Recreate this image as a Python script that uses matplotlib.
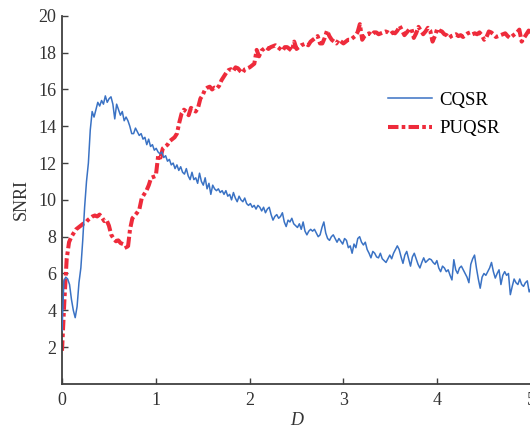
import matplotlib
matplotlib.use("Agg")
import matplotlib.pyplot as plt
import numpy as np

# CQSR curve (roughly 0.02 apart in D)
cqsr_snri = [
    2.9, 5.6, 5.8, 5.7, 5.4, 4.6, 4.0, 3.6, 4.2, 5.5,
    6.3, 7.8, 9.6, 11.0, 12.0, 13.8, 14.8, 14.5, 14.9, 15.3,
    15.1, 15.4, 15.2, 15.65, 15.3, 15.5, 15.6, 15.2, 14.4, 15.2,
    14.9, 14.6, 14.8, 14.3, 14.5, 14.3, 14.0, 13.6, 13.6, 13.9,
    13.7, 13.5, 13.6, 13.3, 13.4, 13.0, 13.3, 12.9, 13.0, 12.7,
    12.8, 12.6, 12.5, 12.6, 12.3, 12.4, 12.1, 12.2, 11.9, 12.0,
    11.7, 11.9, 11.6, 11.8, 11.5, 11.4, 11.7, 11.3, 11.1, 11.5,
    11.1, 11.2, 10.9, 11.45, 11.0, 10.8, 11.2, 10.6, 10.9, 10.3,
    10.8, 10.6, 10.5, 10.6, 10.4, 10.5, 10.3, 10.5, 10.2, 10.3,
    10.0, 10.4, 10.1, 9.9, 10.2, 10.0, 9.9, 10.1, 9.8, 9.7,
    9.8, 9.6, 9.7, 9.5, 9.7, 9.6, 9.4, 9.6, 9.3, 9.5,
    9.6, 9.2, 8.9, 9.1, 9.2, 9.0, 9.1, 9.3, 8.8, 8.55,
    8.9, 8.8, 9.0, 8.7, 8.6, 8.5, 8.7, 8.4, 8.8, 8.3,
    8.1, 8.3, 8.4, 8.3, 8.4, 8.2, 8.0, 8.1, 8.5, 8.8,
    8.2, 7.9, 7.8, 8.0, 8.1, 7.9, 7.7, 7.9, 7.75, 7.6,
    7.9, 7.8, 7.4, 7.5, 7.1, 7.6, 7.4, 7.9, 8.0, 7.7,
    7.55, 7.7, 7.3, 7.1, 6.85, 7.2, 7.1, 6.9, 6.85, 7.1,
    6.8, 6.7, 6.6, 6.8, 7.0, 6.8, 7.1, 7.3, 7.5, 7.3,
    6.9, 6.55, 7.0, 7.2, 6.8, 6.4, 6.9, 7.1, 6.8, 6.5,
    6.3, 6.6, 6.85, 6.6, 6.7, 6.8, 6.75, 6.6, 6.5, 6.7,
    6.3, 6.1, 6.4, 6.3, 6.1, 6.2, 5.9, 5.65, 6.75, 6.2,
    6.0, 6.3, 6.4, 6.2, 6.0, 5.8, 5.5, 6.5, 6.8, 7.0,
    6.3, 5.7, 5.2, 5.8, 6.0, 5.9, 6.1, 6.3, 6.6, 6.1,
    5.75, 6.0, 6.2, 5.4, 5.9, 6.1, 5.9, 6.0, 4.85, 5.3,
    5.7, 5.5, 5.4, 5.7, 5.4, 5.3, 5.5, 5.6, 5.0, 5.2,
]

# PUQSR curve, 0.025 apart in D
puqsr_snri = [
    1.8, 4.5, 6.8, 7.7, 8.0, 8.2, 8.4, 8.5, 8.6, 8.7,
    8.75, 8.9, 9.0, 9.1, 9.15, 9.1, 9.2, 9.05, 8.85, 8.9,
    8.6, 8.1, 7.9, 7.75, 7.8, 7.65, 7.6, 7.55, 7.3, 8.4,
    9.0, 9.15, 9.3, 9.5, 10.1, 10.3, 10.5, 10.8, 11.2, 11.25,
    11.3, 12.4, 12.3, 12.8, 12.9, 13.0, 13.2, 13.3, 13.4, 13.6,
    14.2, 14.7, 14.9, 14.8, 14.6, 15.0, 14.9, 14.8, 15.0, 15.5,
    15.7, 16.0, 16.1, 16.15, 16.0, 16.1, 16.05, 16.2, 16.5, 16.7,
    16.9, 17.05, 17.1, 17.0, 17.2, 17.15, 17.0, 16.9, 17.1, 17.15,
    17.2, 17.3, 17.4, 18.15, 17.8, 18.1, 18.2, 18.3, 18.2, 18.3,
    18.35, 18.4, 18.3, 18.2, 18.1, 18.3, 18.3, 18.2, 18.1, 18.6,
    18.2, 18.3, 18.4, 18.45, 18.5, 18.4, 18.6, 18.7, 18.8, 18.9,
    18.5, 18.5, 18.8, 19.2, 18.9, 18.7, 18.6, 18.5, 18.7, 18.6,
    18.5, 18.6, 18.7, 18.7, 18.8, 18.9, 19.1, 19.55, 18.7, 18.9,
    19.0, 19.05, 18.95, 19.1, 19.1, 19.0, 19.05, 19.1, 19.15, 19.1,
    19.0, 19.1, 19.05, 19.2, 19.45, 19.2, 18.95, 19.1, 19.25, 19.3,
    18.8, 19.05, 19.4, 19.2, 19.0, 19.15, 19.35, 19.2, 18.6, 18.9,
    19.3, 19.2, 19.15, 19.0, 18.95, 18.8, 18.9, 18.95, 19.0, 18.9,
    18.95, 18.85, 18.95, 19.05, 19.1, 19.0, 19.05, 19.0, 19.1, 18.95,
    18.7, 18.85, 19.15, 19.1, 19.0, 18.85, 18.9, 18.95, 19.0, 19.05,
    18.9, 18.8, 18.9, 19.0, 19.1, 19.25, 18.6, 18.8, 19.0, 19.2,
    19.1,
]

d_cqsr = np.linspace(0, 5, len(cqsr_snri))
d_puqsr = np.linspace(0, 5, len(puqsr_snri))

plt.rcParams['font.family'] = ['Liberation Serif', 'DejaVu Serif']

fig = plt.figure(figsize=(5.3, 4.28), dpi=100)
ax = fig.add_axes([0.117, 0.103, 0.885, 0.86])

ax.plot(d_cqsr, cqsr_snri, color='#3a72c4', lw=1.1, label='CQSR', zorder=3)
ax.plot(d_puqsr, puqsr_snri, color='#ee2b3b', lw=2.9, dashes=(2.6, 0.8, 0.9, 0.8),
        label='PUQSR', zorder=2)

ax.set_xlim(0, 5)
ax.set_ylim(0, 20)
ax.set_xticks([0, 1, 2, 3, 4, 5])
ax.set_yticks([2, 4, 6, 8, 10, 12, 14, 16, 18, 20])

for s in ['top', 'right']:
    ax.spines[s].set_visible(False)
for s in ['left', 'bottom']:
    ax.spines[s].set_color('#404040')
    ax.spines[s].set_linewidth(1.3)

ax.tick_params(direction='in', length=4, width=1, colors='#404040', labelsize=13,
               labelcolor='#333333')
ax.tick_params(axis='x', pad=6)
ax.tick_params(axis='y', pad=4)

ax.set_xlabel('D', style='italic', fontsize=13, color='#333333', labelpad=2)
ax.set_ylabel('SNRI', fontsize=13, color='#333333', labelpad=6)

ax.legend(loc='upper left', bbox_to_anchor=(0.66, 0.84), frameon=False, fontsize=13.5,
          handlelength=2.3, handletextpad=0.43, labelspacing=0.6)

fig.savefig('out.png', dpi=100)
